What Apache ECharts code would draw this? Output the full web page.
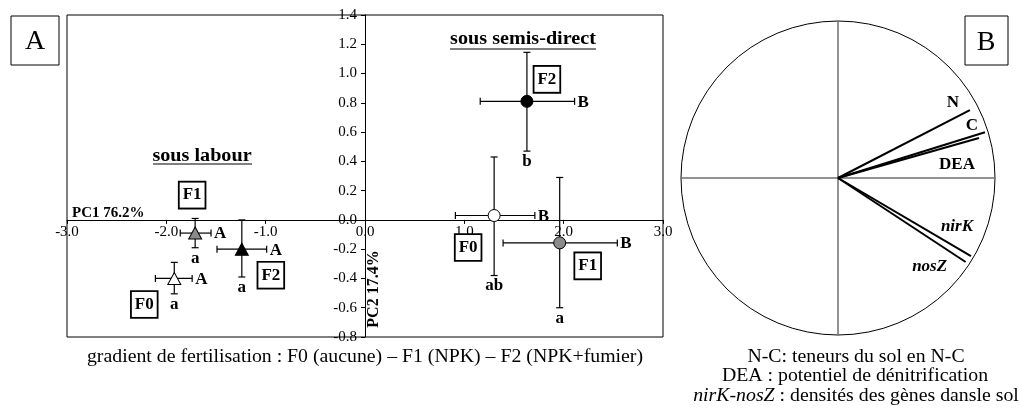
<!DOCTYPE html>
<html>
<head>
<meta charset="utf-8">
<script src="https://cdn.jsdelivr.net/npm/echarts@6/dist/echarts.min.js"></script>
<style>
html,body{margin:0;padding:0;background:#fff}
#chart{width:1022px;height:412px}
</style>
</head>
<body>
<div id="chart"></div>
<script>
// ---- Panel A: PCA scores per fertilisation level (mean, with error-bar extents) ----
const treatments = ['F0', 'F1', 'F2'];

// Conventional tillage ("sous labour")
const labourPC1 = [-1.92, -1.71, -1.24];
const labourPC2 = [-0.40, -0.09, -0.20];
const labourPC1Low = [-2.11, -1.86, -1.49];
const labourPC1High = [-1.74, -1.55, -0.99];
const labourPC2Low = [-0.505, -0.19, -0.39];
const labourPC2High = [-0.29, 0.01, 0.0];
const labourGroupPC1 = ['A', 'A', 'A'];
const labourGroupPC2 = ['a', 'a', 'a'];

// Direct seeding ("sous semis-direct")
const semisPC1 = [1.30, 1.96, 1.63];
const semisPC2 = [0.03, -0.157, 0.81];
const semisPC1Low = [0.91, 1.39, 1.16];
const semisPC1High = [1.71, 2.54, 2.11];
const semisPC2Low = [-0.38, -0.60, 0.47];
const semisPC2High = [0.43, 0.29, 1.145];
const semisGroupPC1 = ['B', 'B', 'B'];
const semisGroupPC2 = ['ab', 'a', 'b'];

// Axis ranges
const pc1Min = -3, pc1Max = 3, pc1Step = 1;
const pc2Min = -0.8, pc2Max = 1.4, pc2Step = 0.2;

// ---- Panel B: correlation circle loadings ----
const variables = ['N', 'C', 'DEA', 'nirK', 'nosZ'];
const loadingPC1 = [0.84, 0.936, 0.898, 0.847, 0.813];
const loadingPC2 = [0.433, 0.291, 0.255, -0.497, -0.535];

// ---- layout & styles ----
const SERIF = '"Liberation Serif", "Times New Roman", serif';
const fills = ['#ffffff', '#8a8a8a', '#000000'];
const tagOffsetLabour = [[-30, 26], [-3, -38], [29, 26]];
const tagOffsetSemis = [[-26, 32], [28, 23], [20, -22]];
const varLabelOffset = [[-17, -7], [-13, -7], [-22, 27], [-14, -29], [-36, 5]];
const varItalic = [false, false, false, true, true];

const gridA = { left: 67, top: 15, width: 596, height: 322 };
// the axes cross at (0, 0) inside the frame, so shift each axis (with its labels) onto zero
const xAxisShift = -gridA.height * (0 - pc2Min) / (pc2Max - pc2Min);
const yAxisShift = -gridA.width * (0 - pc1Min) / (pc1Max - pc1Min);

function buildRows(px, py, xl, xh, yl, yh) {
  return px.map((v, i) => [v, py[i], xl[i], xh[i], yl[i], yh[i]]);
}

function errorBarRenderer(groupX, groupY, tagOffsets) {
  return function (params, api) {
    const i = params.dataIndex;
    const x = api.value(0), y = api.value(1);
    const l = api.coord([api.value(2), y]);
    const r = api.coord([api.value(3), y]);
    const b = api.coord([x, api.value(4)]);
    const t = api.coord([x, api.value(5)]);
    const p = api.coord([x, y]);
    const cap = 3.5;
    const st = { stroke: '#000', lineWidth: 1.2 };
    const letterFont = 'bold 17px ' + SERIF;
    return {
      type: 'group',
      children: [
        { type: 'line', shape: { x1: l[0], y1: l[1], x2: r[0], y2: r[1] }, style: st },
        { type: 'line', shape: { x1: l[0], y1: l[1] - cap, x2: l[0], y2: l[1] + cap }, style: st },
        { type: 'line', shape: { x1: r[0], y1: r[1] - cap, x2: r[0], y2: r[1] + cap }, style: st },
        { type: 'line', shape: { x1: b[0], y1: b[1], x2: t[0], y2: t[1] }, style: st },
        { type: 'line', shape: { x1: b[0] - cap, y1: b[1], x2: b[0] + cap, y2: b[1] }, style: st },
        { type: 'line', shape: { x1: t[0] - cap, y1: t[1], x2: t[0] + cap, y2: t[1] }, style: st },
        { type: 'text', x: r[0] + 3, y: r[1] + 1, style: { text: groupX[i], font: letterFont, fill: '#000', align: 'left', verticalAlign: 'middle' } },
        { type: 'text', x: b[0], y: b[1] + 2, style: { text: groupY[i], font: letterFont, fill: '#000', align: 'center', verticalAlign: 'top' } },
        { type: 'text', x: p[0] + tagOffsets[i][0], y: p[1] + tagOffsets[i][1],
          style: { text: treatments[i], font: 'bold 17px ' + SERIF, fill: '#000', align: 'center', verticalAlign: 'middle',
                   borderColor: '#000', borderWidth: 1.8, padding: [5, 3, 3, 3], backgroundColor: '#fff' } }
      ]
    };
  };
}

function markerData(px, py) {
  return px.map((v, i) => ({ value: [v, py[i]], itemStyle: { color: fills[i] } }));
}

const chart = echarts.init(document.getElementById('chart'), null, { renderer: 'canvas' });

const captionStyle = (text, size) => ({ text, font: size + 'px ' + SERIF, fill: '#000', align: 'center', verticalAlign: 'middle' });

const option = {
  backgroundColor: '#fff',
  animation: false,
  grid: [
    Object.assign({ show: true, borderColor: '#000', borderWidth: 1, backgroundColor: 'transparent' }, gridA),
    { left: 681, top: 21, width: 314, height: 314, show: false }
  ],
  xAxis: [
    {
      gridIndex: 0, type: 'value', min: pc1Min, max: pc1Max, interval: pc1Step,
      position: 'bottom', offset: xAxisShift,
      axisLine: { onZero: false, lineStyle: { color: '#000', width: 1 } },
      axisTick: { show: true, inside: false, length: 4, lineStyle: { color: '#000' } },
      axisLabel: { margin: 5, color: '#000', fontFamily: SERIF, fontSize: 15, formatter: v => v.toFixed(1), showMinLabel: true, showMaxLabel: true },
      splitLine: { show: false }
    },
    { gridIndex: 1, type: 'value', min: -1, max: 1, show: false }
  ],
  yAxis: [
    {
      gridIndex: 0, type: 'value', min: pc2Min, max: pc2Max, interval: pc2Step,
      position: 'left', offset: yAxisShift,
      axisLine: { onZero: false, lineStyle: { color: '#000', width: 1 } },
      axisTick: { show: true, inside: false, length: 4, lineStyle: { color: '#000' } },
      axisLabel: { margin: 8, color: '#000', fontFamily: SERIF, fontSize: 15, formatter: v => v.toFixed(1), showMinLabel: true, showMaxLabel: true },
      splitLine: { show: false }
    },
    { gridIndex: 1, type: 'value', min: -1, max: 1, show: false }
  ],
  series: [
    {
      type: 'custom', xAxisIndex: 0, yAxisIndex: 0, z: 3,
      renderItem: errorBarRenderer(labourGroupPC1, labourGroupPC2, tagOffsetLabour),
      data: buildRows(labourPC1, labourPC2, labourPC1Low, labourPC1High, labourPC2Low, labourPC2High)
    },
    {
      type: 'custom', xAxisIndex: 0, yAxisIndex: 0, z: 3,
      renderItem: errorBarRenderer(semisGroupPC1, semisGroupPC2, tagOffsetSemis),
      data: buildRows(semisPC1, semisPC2, semisPC1Low, semisPC1High, semisPC2Low, semisPC2High)
    },
    {
      type: 'scatter', xAxisIndex: 0, yAxisIndex: 0, z: 5,
      symbol: 'triangle', symbolSize: [13, 12],
      itemStyle: { borderColor: '#000', borderWidth: 1, opacity: 1 },
      data: markerData(labourPC1, labourPC2)
    },
    {
      type: 'scatter', xAxisIndex: 0, yAxisIndex: 0, z: 5,
      symbol: 'circle', symbolSize: 12,
      itemStyle: { borderColor: '#000', borderWidth: 1, opacity: 1 },
      data: markerData(semisPC1, semisPC2)
    },
    {
      // unit circle and the two reference axes
      type: 'custom', xAxisIndex: 1, yAxisIndex: 1, z: 2,
      renderItem: function (params, api) {
        const c = api.coord([0, 0]);
        const rad = api.size([1, 1])[0];
        const l = api.coord([-1, 0]), r = api.coord([1, 0]);
        const t = api.coord([0, 1]), b = api.coord([0, -1]);
        const axisStyle = { stroke: '#6e6e6e', lineWidth: 1.5 };
        return {
          type: 'group',
          children: [
            { type: 'circle', shape: { cx: c[0], cy: c[1], r: rad }, style: { fill: 'none', stroke: '#000', lineWidth: 1 } },
            { type: 'line', shape: { x1: l[0], y1: l[1], x2: r[0], y2: r[1] }, style: axisStyle },
            { type: 'line', shape: { x1: t[0], y1: t[1], x2: b[0], y2: b[1] }, style: axisStyle }
          ]
        };
      },
      data: [[0, 0]]
    },
    {
      // variable vectors
      type: 'custom', xAxisIndex: 1, yAxisIndex: 1, z: 3,
      renderItem: function (params, api) {
        const i = params.dataIndex;
        const o = api.coord([0, 0]);
        const e = api.coord([api.value(0), api.value(1)]);
        const off = varLabelOffset[i];
        return {
          type: 'group',
          children: [
            { type: 'line', shape: { x1: o[0], y1: o[1], x2: e[0], y2: e[1] }, style: { stroke: '#000', lineWidth: 2 } },
            { type: 'text', x: e[0] + off[0], y: e[1] + off[1],
              style: { text: variables[i], font: (varItalic[i] ? 'italic ' : '') + 'bold 17px ' + SERIF, fill: '#000', align: 'center', verticalAlign: 'middle' } }
          ]
        };
      },
      data: loadingPC1.map((v, i) => [v, loadingPC2[i]])
    }
  ],
  graphic: [
    // panel letters
    { type: 'rect', shape: { x: 11, y: 16, width: 48, height: 49 }, style: { fill: '#fff', stroke: '#000', lineWidth: 1 } },
    { type: 'text', x: 35, y: 42, style: { text: 'A', font: '28px ' + SERIF, fill: '#000', align: 'center', verticalAlign: 'middle' } },
    { type: 'rect', shape: { x: 965, y: 16, width: 43, height: 49 }, style: { fill: '#fff', stroke: '#000', lineWidth: 1 } },
    { type: 'text', x: 986, y: 43, style: { text: 'B', font: '28px ' + SERIF, fill: '#000', align: 'center', verticalAlign: 'middle' } },
    // group titles
    { type: 'text', x: 202, y: 156, scaleX: 1.12, style: { text: 'sous labour', font: 'bold 18px ' + SERIF, fill: '#000', align: 'center', verticalAlign: 'middle' } },
    { type: 'line', shape: { x1: 153, y1: 164, x2: 252, y2: 164 }, style: { stroke: '#000', lineWidth: 1.2 } },
    { type: 'text', x: 523, y: 39, scaleX: 1.12, style: { text: 'sous semis-direct', font: 'bold 18px ' + SERIF, fill: '#000', align: 'center', verticalAlign: 'middle' } },
    { type: 'line', shape: { x1: 450, y1: 49, x2: 596, y2: 49 }, style: { stroke: '#000', lineWidth: 1.2 } },
    // axis titles
    { type: 'text', x: 72, y: 213, style: { text: 'PC1 76.2%', font: 'bold 15px ' + SERIF, fill: '#000', align: 'left', verticalAlign: 'middle' } },
    { type: 'text', x: 374, y: 289, rotation: Math.PI / 2, style: { text: 'PC2 17.4%', font: 'bold 16px ' + SERIF, fill: '#000', align: 'center', verticalAlign: 'middle' } },
    // captions
    { type: 'text', x: 365, y: 357, scaleX: 1.1, style: captionStyle('gradient de fertilisation : F0 (aucune) \u2013 F1 (NPK) \u2013 F2 (NPK+fumier)', 18) },
    { type: 'text', x: 856, y: 357, scaleX: 1.1, style: captionStyle('N-C: teneurs du sol en N-C', 18) },
    { type: 'text', x: 855, y: 376, scaleX: 1.1, style: captionStyle('DEA : potentiel de dénitrification', 18) },
    { type: 'text', x: 856, y: 396, scaleX: 1.1, style: Object.assign(captionStyle('{i|nirK-nosZ} : densités des gènes dansle sol', 18),
        { rich: { i: { fontStyle: 'italic', fontFamily: SERIF, fontSize: 18 } } }) }
  ]
};

chart.setOption(option);
</script>
</body>
</html>
